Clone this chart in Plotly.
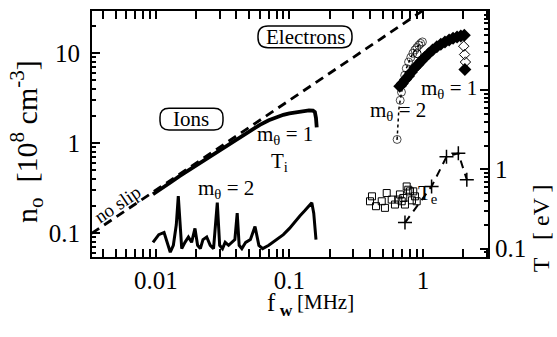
import plotly.graph_objects as go

# ---- data ---------------------------------------------------------------
# "no slip" reference line  n = 30 f
noslip_f = [0.0033, 1.0]
noslip_n = [0.099, 30.0]

# ion density (m_theta = 2 then m_theta = 1), 10^8 cm^-3
ion_f = [0.0095, 0.011, 0.013, 0.015, 0.018, 0.021, 0.025, 0.03, 0.035, 0.04,
         0.05, 0.06, 0.07, 0.08, 0.09, 0.10, 0.11, 0.12, 0.13, 0.14, 0.15,
         0.155, 0.158, 0.16]
ion_n = [0.27, 0.31, 0.37, 0.43, 0.51, 0.59, 0.70, 0.83, 0.97, 1.10,
         1.36, 1.60, 1.80, 1.96, 2.07, 2.15, 2.20, 2.25, 2.29, 2.32, 2.30,
         2.22, 1.90, 1.50]

# ion temperature, eV
ti_f = [0.0095, 0.0105, 0.0115, 0.0122, 0.0128, 0.0135, 0.0142, 0.0147, 0.0151,
        0.0156, 0.0165, 0.0175, 0.0185, 0.0196, 0.0205, 0.0215, 0.0225, 0.0240,
        0.0255, 0.0270, 0.0288, 0.0300, 0.0315, 0.0330, 0.0350, 0.0370, 0.0390,
        0.0406, 0.0420, 0.0440, 0.0470, 0.0510, 0.0552, 0.0590, 0.0630, 0.0700,
        0.0800, 0.0900, 0.1000, 0.1100, 0.1200, 0.1300, 0.1400, 0.1470, 0.1520,
        0.1560, 0.1580]
ti_t = [0.12, 0.15, 0.16, 0.12, 0.09, 0.11, 0.20, 0.46, 0.20, 0.10,
        0.12, 0.14, 0.12, 0.18, 0.11, 0.10, 0.13, 0.14, 0.11, 0.10,
        0.38, 0.11, 0.10, 0.12, 0.11, 0.12, 0.13, 0.28, 0.11, 0.10,
        0.12, 0.13, 0.19, 0.11, 0.10, 0.11, 0.13, 0.15, 0.18, 0.22,
        0.26, 0.30, 0.34, 0.38, 0.28, 0.18, 0.13]

# electron density, m_theta = 2 (open circles joined by a dotted line)
e2_f = [0.64, 0.645, 0.65, 0.66, 0.675, 0.69, 0.71, 0.73, 0.75, 0.78, 0.81,
        0.84, 0.87, 0.90, 0.93, 0.96, 0.99]
e2_n = [1.1, 1.4, 1.8, 2.4, 3.0, 3.7, 4.6, 5.7, 6.8, 8.0, 9.0,
        10.0, 10.9, 11.6, 12.3, 12.9, 13.4]
e2_symbols = ["circle-open-dot"] + ["circle-open"] * 16
e2_sizes = [8, 0, 0, 0] + [8] * 13
e2_out_f = [0.905]
e2_out_n = [9.9]

# electron density, m_theta = 1 (filled diamonds)
e1_f = [0.67, 0.70, 0.74, 0.78, 0.82, 0.87, 0.92, 0.97, 1.03, 1.10, 1.18, 1.27,
        1.36, 1.46, 1.57, 1.68, 1.80, 1.92, 2.04]
e1_n = [4.3, 4.6, 5.1, 5.6, 6.2, 6.9, 7.5, 8.2, 9.0, 9.9, 10.9, 11.8,
        12.6, 13.4, 14.1, 14.7, 15.2, 15.6, 15.9]
e1_drop_f = [2.02, 2.05, 2.08]
e1_drop_n = [12.0, 9.7, 8.0]
e1_end_f = [2.06]
e1_end_n = [6.6]

# electron temperature (crosses), eV
te_f = [0.733, 1.16, 1.50, 1.84, 2.13]
te_t = [0.213, 0.61, 1.44, 1.60, 0.74]

# open squares, eV
sq_f = [0.401, 0.415, 0.445, 0.491, 0.519, 0.535, 0.583, 0.617, 0.653, 0.672,
        0.693, 0.712, 0.733, 0.755, 0.776, 0.799, 0.827, 0.846, 0.871, 0.897]
sq_t = [0.396, 0.457, 0.343, 0.396, 0.327, 0.503, 0.416, 0.360, 0.416, 0.483,
        0.396, 0.436, 0.360, 0.609, 0.554, 0.528, 0.407, 0.528, 0.457, 0.396]

x_ticks = [0.01, 0.1, 1]
n_ticks = [0.1, 1, 10]
t_ticks = [0.1, 1, 10, 100]
t_ticktext = ["0.1", "1", "", ""]

SERIF = "Liberation Serif, Times New Roman, Times, DejaVu Serif, serif"
BLACK = "black"

fig = go.Figure()

fig.add_trace(go.Scatter(x=noslip_f, y=noslip_n, mode="lines",
                         line=dict(color=BLACK, width=2.8, dash="9px,6px")))
fig.add_trace(go.Scatter(x=ion_f, y=ion_n, mode="lines",
                         line=dict(color=BLACK, width=3.8)))
fig.add_trace(go.Scatter(x=ti_f, y=ti_t, mode="lines", yaxis="y2",
                         line=dict(color=BLACK, width=3)))
fig.add_trace(go.Scatter(x=e2_f, y=e2_n, mode="lines+markers",
                         line=dict(color=BLACK, width=1.5, dash="dot"),
                         marker=dict(symbol=e2_symbols, size=e2_sizes,
                                     color=BLACK, line=dict(width=1))))
fig.add_trace(go.Scatter(x=e2_out_f, y=e2_out_n, mode="markers",
                         marker=dict(symbol="circle-open", size=8, color=BLACK,
                                     line=dict(width=1))))
fig.add_trace(go.Scatter(x=e1_f, y=e1_n, mode="lines+markers",
                         line=dict(color=BLACK, width=6),
                         marker=dict(symbol="diamond", size=10, color=BLACK)))
fig.add_trace(go.Scatter(x=e1_drop_f, y=e1_drop_n, mode="markers",
                         marker=dict(symbol="diamond-open", size=8, color=BLACK,
                                     line=dict(width=1))))
fig.add_trace(go.Scatter(x=e1_end_f, y=e1_end_n, mode="markers",
                         marker=dict(symbol="diamond", size=10, color=BLACK)))
fig.add_trace(go.Scatter(x=sq_f, y=sq_t, mode="markers", yaxis="y2",
                         marker=dict(symbol="square-open", size=7, color=BLACK,
                                     line=dict(width=1))))
fig.add_trace(go.Scatter(x=te_f, y=te_t, mode="lines+markers", yaxis="y2",
                         line=dict(color=BLACK, width=2, dash="8px,6px"),
                         marker=dict(symbol="cross-thin-open", size=10,
                                     line=dict(width=1.5, color=BLACK))))

axis_common = dict(type="log", showline=True, linecolor=BLACK, linewidth=2,
                   ticks="inside", tickcolor=BLACK, tickwidth=1.5, ticklen=8,
                   showgrid=False, zeroline=False,
                   tickfont=dict(family=SERIF, size=25, color=BLACK),
                   minor=dict(ticks="inside", ticklen=4, tickwidth=1.5,
                              tickcolor=BLACK, dtick="D1", showgrid=False))

fig.update_layout(
    width=557, height=337,
    margin=dict(l=92, r=69, t=9, b=80),
    plot_bgcolor="white", paper_bgcolor="white",
    showlegend=False,
    font=dict(family=SERIF, color=BLACK),
    xaxis=dict(axis_common, range=[-2.479, 0.487], mirror="allticks",
               tickmode="array", tickvals=x_ticks,
               ticktext=["0.01", "0.1", "1"]),
    yaxis=dict(axis_common, range=[-1.267, 1.471],
               tickmode="array", tickvals=n_ticks,
               ticktext=["0.1", "1", "10"], ticklabelstandoff=5),
    yaxis2=dict(axis_common, range=[-1.106, 2.0], overlaying="y",
                side="right", tickmode="array", tickvals=t_ticks,
                ticktext=t_ticktext),
)

def px_x(p):
    return (p - 92) / 396

def px_y(p):
    return (257 - p) / 248

def label(text, x, y, size=20, angle=0):
    fig.add_annotation(text=text, x=px_x(x), y=px_y(y), xref="paper",
                       yref="paper", xanchor="center", yanchor="middle",
                       showarrow=False, textangle=angle,
                       font=dict(family=SERIF, size=size, color=BLACK))

# axis titles
label("n<sub>o</sub>  [10<sup>8</sup> cm<sup>-3</sup>]", 27, 141, size=30, angle=-90)
label("f<sub> <b>w</b></sub>", 280, 305, size=25)
label("[MHz]", 325, 302, size=21)
label("T   [ eV ]", 541, 228, size=24, angle=-90)

# in-plot labels
label("no slip", 117, 204, size=19, angle=-34)
label("Ions", 191, 118, size=21)
label("Electrons", 305, 35, size=21)
label("m<sub>θ</sub> = 1", 285, 134, size=21)
label("m<sub>θ</sub> = 2", 226, 188, size=21)
label("m<sub>θ</sub> = 1", 449, 88, size=21)
label("m<sub>θ</sub> = 2", 398, 110, size=21)
label("T<sub>i</sub>", 279, 161, size=21)
label("T<sub>e</sub>", 428, 193, size=21)

# rounded boxes round the "Ions" and "Electrons" labels
def rounded_box(x0, y0, x1, y1, r=9):
    X, Y = px_x, px_y
    path = (f"M {X(x0 + r)},{Y(y0)} L {X(x1 - r)},{Y(y0)} "
            f"Q {X(x1)},{Y(y0)} {X(x1)},{Y(y0 + r)} "
            f"L {X(x1)},{Y(y1 - r)} Q {X(x1)},{Y(y1)} {X(x1 - r)},{Y(y1)} "
            f"L {X(x0 + r)},{Y(y1)} Q {X(x0)},{Y(y1)} {X(x0)},{Y(y1 - r)} "
            f"L {X(x0)},{Y(y0 + r)} Q {X(x0)},{Y(y0)} {X(x0 + r)},{Y(y0)} Z")
    fig.add_shape(type="path", path=path, xref="paper", yref="paper",
                  line=dict(color=BLACK, width=1.5))

rounded_box(160, 107, 223, 129)
rounded_box(258, 24, 352, 46, r=10)

fig.write_html("out.html")
